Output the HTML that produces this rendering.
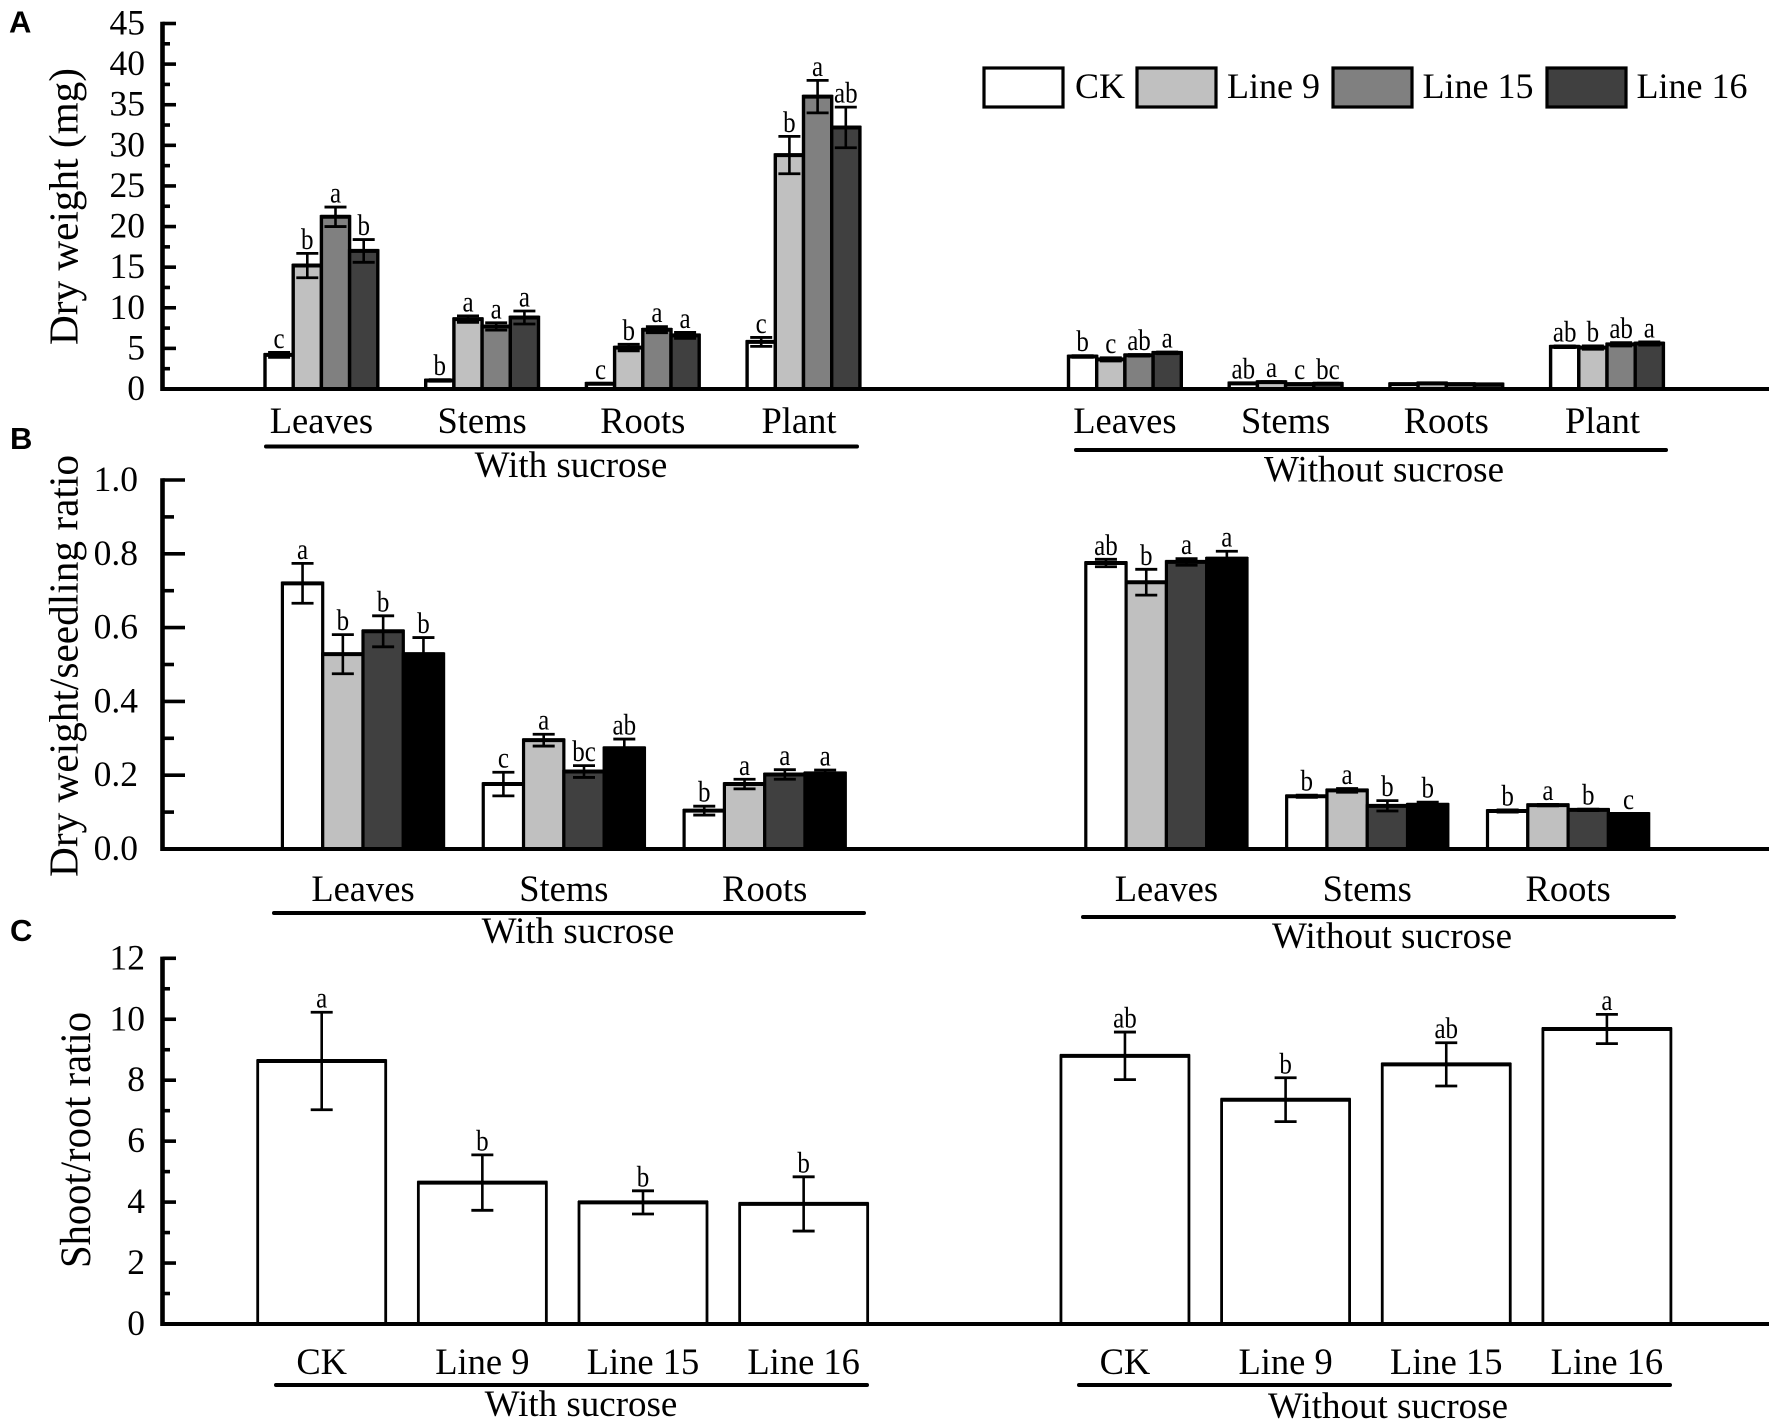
<!DOCTYPE html>
<html lang="en">
<head>
<meta charset="utf-8">
<title>Dry weight and shoot/root ratio</title>
<style>
html,body{margin:0;padding:0;background:#fff;width:1772px;height:1427px;overflow:hidden}
svg{display:block}
text{font-family:"Liberation Serif","Times New Roman",serif;fill:#000}
</style>
</head>
<body>
<svg id="chart" xmlns="http://www.w3.org/2000/svg" width="1772" height="1427" viewBox="0 0 1772 1427">
  <rect x="0" y="0" width="1772" height="1427" fill="#fff"/>
  <text x="9" y="32.5" font-size="31" font-weight="bold" style="font-family:'Liberation Sans',sans-serif">A</text>
  <text x="10" y="449" font-size="31" font-weight="bold" style="font-family:'Liberation Sans',sans-serif">B</text>
  <text x="10" y="941" font-size="31" font-weight="bold" style="font-family:'Liberation Sans',sans-serif">C</text>

  <text transform="translate(77.5,345) rotate(-90)" font-size="41" textLength="277" lengthAdjust="spacingAndGlyphs">Dry weight (mg)</text>
  <text transform="translate(77.5,877) rotate(-90)" font-size="41" textLength="422" lengthAdjust="spacingAndGlyphs">Dry weight/seedling ratio</text>
  <text transform="translate(90,1268) rotate(-90)" font-size="43" textLength="256" lengthAdjust="spacingAndGlyphs">Shoot/root ratio</text>

  <g>
    <rect x="984" y="68" width="79" height="39" fill="#fff" stroke="#000" stroke-width="3.2"/>
    <text x="1075" y="98" font-size="36">CK</text>
    <rect x="1137" y="68" width="79" height="39" fill="#c0c0c0" stroke="#000" stroke-width="3.2"/>
    <text x="1227" y="98" font-size="36">Line 9</text>
    <rect x="1333" y="68" width="79" height="39" fill="#808080" stroke="#000" stroke-width="3.2"/>
    <text x="1422.5" y="98" font-size="36">Line 15</text>
    <rect x="1547" y="68" width="79" height="39" fill="#404040" stroke="#000" stroke-width="3.2"/>
    <text x="1636.5" y="98" font-size="36">Line 16</text>
  </g>
</svg>
<script>
// ---------- Panel A data (rows = category, columns = CK, Line 9, Line 15, Line 16)
const aCategories = ['Leaves', 'Stems', 'Roots', 'Plant'];
const aTickLabels = [0, 5, 10, 15, 20, 25, 30, 35, 40, 45];
const aFills = ['#ffffff', '#c0c0c0', '#808080', '#404040'];
const aWithValues = [
  [4.2, 15.2, 21.2, 17.0],
  [1.05, 8.6, 7.7, 8.8],
  [0.65, 5.1, 7.3, 6.6],
  [5.8, 28.8, 36.0, 32.2]
];
const aWithErrors = [
  [0.3, 1.5, 1.2, 1.4],
  [0.1, 0.4, 0.45, 0.8],
  [0.05, 0.4, 0.37, 0.37],
  [0.55, 2.3, 2.0, 2.5]
];
const aWithLetters = [
  ['c', 'b', 'a', 'b'],
  ['b', 'a', 'a', 'a'],
  ['c', 'b', 'a', 'a'],
  ['c', 'b', 'a', 'ab']
];
const aWithoutValues = [
  [4.0, 3.65, 4.15, 4.45],
  [0.7, 0.85, 0.6, 0.65],
  [0.6, 0.7, 0.6, 0.57],
  [5.2, 5.1, 5.5, 5.6]
];
const aWithoutErrors = [
  [0.1, 0.2, 0.1, 0.1],
  [0.05, 0.05, 0.05, 0.05],
  [0.03, 0.03, 0.03, 0.03],
  [0.1, 0.2, 0.2, 0.2]
];
const aWithoutLetters = [
  ['b', 'c', 'ab', 'a'],
  ['ab', 'a', 'c', 'bc'],
  ['', '', '', ''],
  ['ab', 'b', 'ab', 'a']
];

// ---------- Panel B data
const bCategories = ['Leaves', 'Stems', 'Roots'];
const bTickLabels = ['0.0', '0.2', '0.4', '0.6', '0.8', '1.0'];
const bFills = ['#ffffff', '#c0c0c0', '#404040', '#000000'];
const bWithValues = [
  [0.72, 0.528, 0.59, 0.528],
  [0.176, 0.295, 0.21, 0.273],
  [0.104, 0.176, 0.202, 0.205]
];
const bWithErrors = [
  [0.054, 0.053, 0.042, 0.045],
  [0.032, 0.016, 0.016, 0.025],
  [0.012, 0.013, 0.013, 0.009]
];
const bWithLetters = [
  ['a', 'b', 'b', 'b'],
  ['c', 'a', 'bc', 'ab'],
  ['b', 'a', 'a', 'a']
];
const bWithoutValues = [
  [0.775, 0.723, 0.778, 0.787],
  [0.143, 0.159, 0.117, 0.12],
  [0.103, 0.119, 0.106, 0.095]
];
const bWithoutErrors = [
  [0.01, 0.035, 0.009, 0.02],
  [0.003, 0.005, 0.014, 0.007],
  [0.003, 0.002, 0.002, 0.001]
];
const bWithoutLetters = [
  ['ab', 'b', 'a', 'a'],
  ['b', 'a', 'b', 'b'],
  ['b', 'a', 'b', 'c']
];

// ---------- Panel C data
const cCategories = ['CK', 'Line 9', 'Line 15', 'Line 16'];
const cTickLabels = [0, 2, 4, 6, 8, 10, 12];
const cFills = ['#ffffff'];
const cWithValues = [[8.63], [4.64], [3.99], [3.94]];
const cWithErrors = [[1.6], [0.91], [0.38], [0.89]];
const cWithLetters = [['a'], ['b'], ['b'], ['b']];
const cWithoutValues = [[8.8], [7.36], [8.52], [9.68]];
const cWithoutErrors = [[0.78], [0.72], [0.71], [0.48]];
const cWithoutLetters = [['ab'], ['b'], ['ab'], ['a']];

const NS = 'http://www.w3.org/2000/svg';
const root = document.getElementById('chart');

function mk(parent, tag, attrs, txt) {
  const n = document.createElementNS(NS, tag);
  for (const k in attrs) n.setAttribute(k, attrs[k]);
  if (txt !== undefined) n.textContent = txt;
  parent.appendChild(n);
  return n;
}

function drawPanel(p) {
  const g = mk(root, 'g', {});
  
  

  const maxV = Number(p.ticks[p.ticks.length - 1]);
  const y = v => p.y0 - (v / maxV) * (p.y0 - p.yTop);
  const slotX = s => p.xStart + p.step * s;

  function drawGroups(values, errors, letters, slotOffset, cond) {
    values.forEach((row, c) => {
      row.forEach((v, s) => {
        const bx = slotX(c + slotOffset) + s * p.barW;
        const rect = mk(g, 'rect', {
          x: bx, y: y(v), width: p.barW, height: p.y0 - y(v),
          fill: p.fills[s], stroke: '#000', 'stroke-width': p.barStroke
        });
        
        

        const top = mk(g, 'line', {
          x1: bx - 1, x2: bx + p.barW + 1, y1: y(v), y2: y(v),
          stroke: '#000', 'stroke-width': p.topStroke
        });
        
        
      });
    });
    values.forEach((row, c) => {
      row.forEach((v, s) => {
        const cx = slotX(c + slotOffset) + (s + 0.5) * p.barW;
        const e = errors[c][s];
        const hi = y(v + e);
        const lo = y(v - e);
        const stem = mk(g, 'line', { x1: cx, x2: cx, y1: hi, y2: lo, stroke: '#000', 'stroke-width': 2.6 });
        
        
        const capA = mk(g, 'line', { x1: cx - 11, x2: cx + 11, y1: hi, y2: hi, stroke: '#000', 'stroke-width': 2.8 });
        
        
        const capB = mk(g, 'line', { x1: cx - 11, x2: cx + 11, y1: lo, y2: lo, stroke: '#000', 'stroke-width': 2.8 });
        
        
        if (letters[c][s]) {
          const t = mk(g, 'text', {
            transform: 'translate(' + cx + ',' + (hi - 4.5) + ') scale(1,1.18)',
            'font-size': 25, 'text-anchor': 'middle'
          }, letters[c][s]);
          
          
        }
      });
    });
  }
  drawGroups(p.withValues, p.withErrors, p.withLetters, 0, 'with');
  drawGroups(p.withoutValues, p.withoutErrors, p.withoutLetters, p.categories.length + 1, 'without');

  const yAxis = mk(g, 'line', { x1: p.axisX, x2: p.axisX, y1: p.yTop - 1.7, y2: p.y0 + 2, stroke: '#000', 'stroke-width': 4.6 });
  
  
  const xAxis = mk(g, 'line', { x1: p.axisX - 2, x2: 1769, y1: p.y0, y2: p.y0, stroke: '#000', 'stroke-width': 4 });
  
  

  const majorStep = maxV / (p.ticks.length - 1);
  p.ticks.forEach((lab, i) => {
    const tv = Number(lab);
    const tick = mk(g, 'line', { x1: p.axisX, x2: p.majorEnd, y1: y(tv), y2: y(tv), stroke: '#000', 'stroke-width': 3.6 });
    
    
    const t = mk(g, 'text', { x: p.labelRight, y: y(tv) + 11, 'font-size': 35.5, 'text-anchor': 'end' }, lab);
    
    
    if (i < p.ticks.length - 1) {
      const m = y(tv + majorStep / 2);
      const minor = mk(g, 'line', { x1: p.axisX, x2: p.minorEnd, y1: m, y2: m, stroke: '#000', 'stroke-width': 3.6 });
      
      
    }
  });

  const groupW = p.barW * p.fills.length;
  function catLabels(offset) {
    p.categories.forEach((c, i) => {
      const nudge = c === 'Plant' ? -4.5 : 0;
      const t = mk(g, 'text', {
        x: slotX(i + offset) + groupW / 2 + nudge, y: p.catY,
        'font-size': 36.5, 'text-anchor': 'middle'
      }, c);
      
      
    });
  }
  catLabels(0);
  catLabels(p.categories.length + 1);

  p.brackets.forEach(b => {
    const l = mk(g, 'line', { x1: b.x1, x2: b.x2, y1: b.y, y2: b.y, stroke: '#000', 'stroke-width': 4, 'stroke-linecap': 'round' });
    
    
    const t = mk(g, 'text', { x: b.tx, y: b.ty, 'font-size': 37, 'text-anchor': 'middle' }, b.label);
    
    
  });
}

drawPanel({
  id: 'a', categories: aCategories, ticks: aTickLabels, fills: aFills,
  withValues: aWithValues, withErrors: aWithErrors, withLetters: aWithLetters,
  withoutValues: aWithoutValues, withoutErrors: aWithoutErrors, withoutLetters: aWithoutLetters,
  y0: 389, yTop: 23.5, axisX: 162.5, majorEnd: 176, minorEnd: 170, labelRight: 145,
  xStart: 265, step: 160.7, barW: 28.2, barStroke: 3.4, topStroke: 4, catY: 433,
  brackets: [
    { x1: 266, x2: 857, y: 446.5, tx: 571, ty: 477, label: 'With sucrose' },
    { x1: 1076, x2: 1666, y: 450, tx: 1384, ty: 481.5, label: 'Without sucrose' }
  ]
});

drawPanel({
  id: 'b', categories: bCategories, ticks: bTickLabels, fills: bFills,
  withValues: bWithValues, withErrors: bWithErrors, withLetters: bWithLetters,
  withoutValues: bWithoutValues, withoutErrors: bWithoutErrors, withoutLetters: bWithoutLetters,
  y0: 849, yTop: 480, axisX: 162.5, majorEnd: 185, minorEnd: 174, labelRight: 138,
  xStart: 282.4, step: 200.85, barW: 40.3, barStroke: 3.2, topStroke: 4, catY: 901,
  brackets: [
    { x1: 274, x2: 864, y: 913, tx: 578, ty: 943, label: 'With sucrose' },
    { x1: 1083, x2: 1674, y: 917, tx: 1392, ty: 948, label: 'Without sucrose' }
  ]
});

drawPanel({
  id: 'c', categories: cCategories, ticks: cTickLabels, fills: cFills,
  withValues: cWithValues, withErrors: cWithErrors, withLetters: cWithLetters,
  withoutValues: cWithoutValues, withoutErrors: cWithoutErrors, withoutLetters: cWithoutLetters,
  y0: 1324, yTop: 958.3, axisX: 162.5, majorEnd: 176, minorEnd: 170, labelRight: 145,
  xStart: 257.7, step: 160.65, barW: 128, barStroke: 2.8, topStroke: 4, catY: 1374,
  brackets: [
    { x1: 276, x2: 867, y: 1385, tx: 581, ty: 1416, label: 'With sucrose' },
    { x1: 1079, x2: 1670, y: 1385, tx: 1388, ty: 1418, label: 'Without sucrose' }
  ]
});
</script>
</body>
</html>
